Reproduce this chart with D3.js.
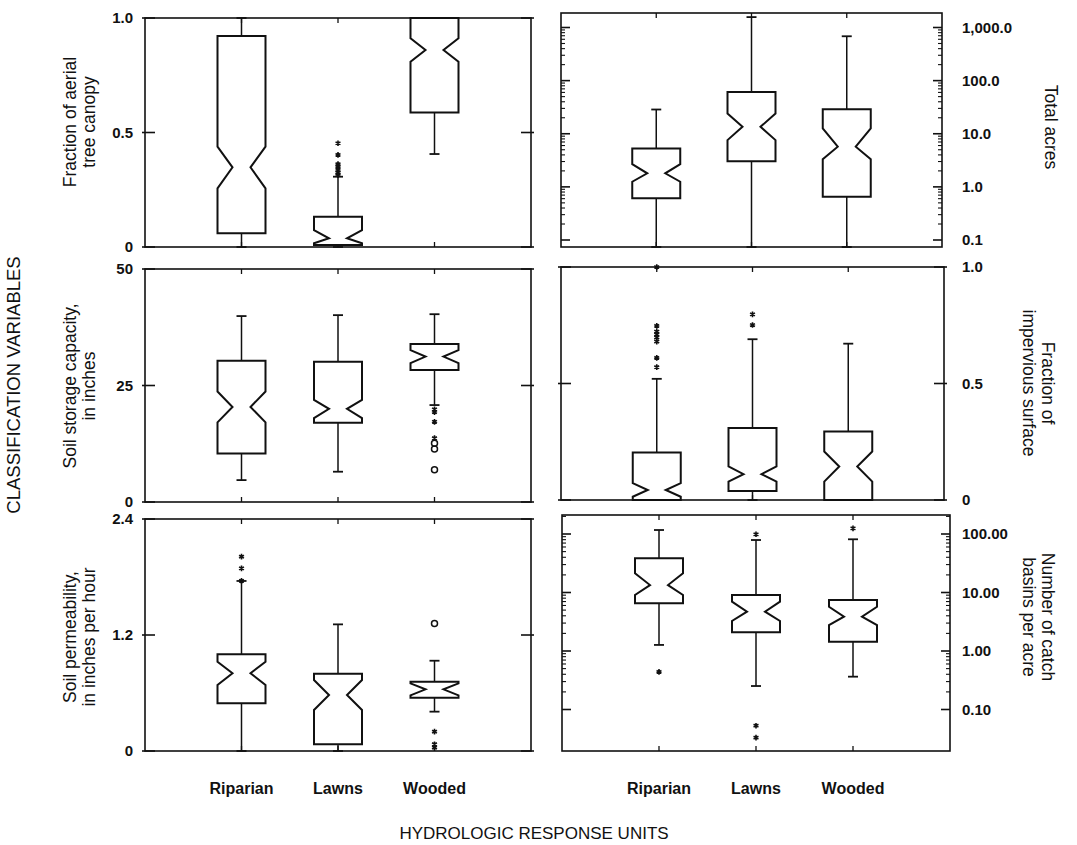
<!DOCTYPE html>
<html>
<head>
<meta charset="utf-8">
<script src="https://cdn.jsdelivr.net/npm/d3@7"></script>
<style>
  body { margin: 0; background: #fff; }
  svg { display: block; font-family: "Liberation Sans", Arial, Helvetica, sans-serif; }
</style>
</head>
<body>
<svg id="chart" width="1077" height="845"></svg>
<script>
// Hydrologic response units shown on the x axis of every panel
const categories = ["Riparian", "Lawns", "Wooded"];

// Box statistics per unit:
// [lower whisker, Q1, notch low, median, notch high, Q3, upper whisker]
const canopyStats = [
  [0.000, 0.060, 0.256, 0.348, 0.438, 0.921, 1.000],
  [0.000, 0.009, 0.016, 0.038, 0.074, 0.132, 0.307],
  [0.406, 0.587, 0.809, 0.860, 0.911, 1.000, 1.000]
];
const canopyStars = [[], [0.453, 0.402, 0.362, 0.350, 0.336, 0.324, 0.314], []];
const canopyCircles = [[], [], []];

const acresStats = [
  [0.05, 0.61, 1.25, 1.80, 2.68, 5.3, 28.6],
  [0.05, 3.05, 7.6, 13.5, 24.1, 61.4, 1570],
  [0.05, 0.65, 3.3, 5.7, 12.6, 29.0, 684]
];
const acresStars = [[], [], []];
const acresCircles = [[], [], []];

const storageStats = [
  [4.7, 10.4, 17.1, 20.4, 23.7, 30.3, 39.9],
  [6.5, 17.0, 18.0, 20.0, 21.9, 30.1, 40.1],
  [20.8, 28.3, 29.8, 31.2, 32.6, 33.9, 40.3]
];
const storageStars = [[], [], [19.9, 19.3, 17.2, 13.7]];
const storageCircles = [[], [], [12.6, 11.4, 6.9]];

const imperviousStats = [
  [0.000, 0.000, 0.014, 0.043, 0.072, 0.204, 0.520],
  [0.000, 0.039, 0.079, 0.111, 0.144, 0.309, 0.690],
  [0.000, 0.000, 0.079, 0.144, 0.208, 0.294, 0.671]
];
const imperviousStars = [[1.0, 0.747, 0.723, 0.710, 0.697, 0.680, 0.610, 0.570], [0.797, 0.751], []];
const imperviousCircles = [[], [], []];

const permeabilityStats = [
  [0.000, 0.493, 0.683, 0.804, 0.924, 1.000, 1.759],
  [0.000, 0.069, 0.424, 0.579, 0.734, 0.800, 1.310],
  [0.407, 0.551, 0.575, 0.638, 0.700, 0.717, 0.934]
];
const permeabilityStars = [[2.01, 1.89, 1.76], [], [0.20, 0.07, 0.035]];
const permeabilityCircles = [[], [], [1.32]];

const basinStats = [
  [1.27, 6.53, 9.06, 13.4, 21.3, 38.5, 117],
  [0.252, 2.09, 3.26, 4.7, 6.96, 9.06, 78.9],
  [0.364, 1.44, 2.78, 3.86, 5.7, 7.44, 81.2]
];
const basinStars = [[0.44], [98.9, 0.0528, 0.033], [125]];
const basinCircles = [[], [], []];

// Tick values and their printed labels
const canopyTicks = [0, 0.5, 1.0];
const canopyTickLabels = ["0", "0.5", "1.0"];
const acresTicks = [0.1, 1, 10, 100, 1000];
const acresTickLabels = ["0.1", "1.0", "10.0", "100.0", "1,000.0"];
const storageTicks = [0, 25, 50];
const storageTickLabels = ["0", "25", "50"];
const imperviousTicks = [0, 0.5, 1.0];
const imperviousTickLabels = ["0", "0.5", "1.0"];
const permeabilityTicks = [0, 1.2, 2.4];
const permeabilityTickLabels = ["0", "1.2", "2.4"];
const basinTicks = [0.1, 1, 10, 100];
const basinTickLabels = ["0.10", "1.00", "10.00", "100.00"];

// ---- layout ----
const svg = d3.select("#chart");
const INK = "#111";

const panels = [
  { stats: canopyStats, stars: canopyStars, circles: canopyCircles,
    ticks: canopyTicks, labels: canopyTickLabels, log: false,
    domain: [0, 1], range: [247, 18], frame: [145, 18, 531, 247], side: "left",
    title: ["Fraction of aerial", "tree canopy"], titleY: 122 },
  { stats: acresStats, stars: acresStars, circles: acresCircles,
    ticks: acresTicks, labels: acresTickLabels, log: true,
    domain: [0.1, 1000], range: [240, 27.5], frame: [561, 13, 942, 247], side: "right",
    title: ["Total acres"], titleY: 127 },
  { stats: storageStats, stars: storageStars, circles: storageCircles,
    ticks: storageTicks, labels: storageTickLabels, log: false,
    domain: [0, 50], range: [502, 269], frame: [145, 269, 531, 502], side: "left",
    title: ["Soil storage capacity,", "in inches"], titleY: 386 },
  { stats: imperviousStats, stars: imperviousStars, circles: imperviousCircles,
    ticks: imperviousTicks, labels: imperviousTickLabels, log: false,
    domain: [0, 1], range: [500, 267], frame: [561, 267, 944, 500], side: "right",
    title: ["Fraction of", "impervious surface"], titleY: 383 },
  { stats: permeabilityStats, stars: permeabilityStars, circles: permeabilityCircles,
    ticks: permeabilityTicks, labels: permeabilityTickLabels, log: false,
    domain: [0, 2.4], range: [751, 519], frame: [145, 519, 531, 751], side: "left",
    title: ["Soil permeability,", "in inches per hour"], titleY: 637 },
  { stats: basinStats, stars: basinStars, circles: basinCircles,
    ticks: basinTicks, labels: basinTickLabels, log: true,
    domain: [0.1, 100], range: [709.5, 534], frame: [562, 515, 950, 751], side: "right",
    title: ["Number of catch", "basins per acre"], titleY: 617 }
];

const BOX_W = 48, NOTCH_IN = 15, CAP_W = 10;

panels.forEach(p => {
  const [fx0, fy0, fx1, fy1] = p.frame;
  const x = d3.scalePoint().domain(categories).range([fx0, fx1]).padding(1);
  const y = (p.log ? d3.scaleLog() : d3.scaleLinear()).domain(p.domain).range(p.range);
  const yc = v => Math.max(fy0, Math.min(fy1, y(v)));
  const g = svg.append("g");

  // frame
  g.append("rect")
    .attr("x", fx0).attr("y", fy0)
    .attr("width", fx1 - fx0).attr("height", fy1 - fy0)
    .attr("fill", "none").attr("stroke", INK).attr("stroke-width", 1.6);

  // category ticks on top and bottom edges
  categories.forEach(c => {
    g.append("line").attr("x1", x(c)).attr("x2", x(c)).attr("y1", fy0).attr("y2", fy0 + 5)
      .attr("stroke", INK).attr("stroke-width", 1.3);
    g.append("line").attr("x1", x(c)).attr("x2", x(c)).attr("y1", fy1).attr("y2", fy1 - 5)
      .attr("stroke", INK).attr("stroke-width", 1.3);
  });

  // y ticks: majors on both sides, minor log ticks in between
  if (p.log) {
    const minor = y.copy().domain([p.domain[0], p.domain[1] * 10]).ticks()
      .filter(v => yc(v) > fy0 && yc(v) < fy1 && y(v) === yc(v));
    minor.forEach(v => {
      const major = Math.abs(Math.log10(v) - Math.round(Math.log10(v))) < 1e-9;
      const len = major ? 9 : 4;
      [[fx0, 1], [fx1, -1]].forEach(([ex, dir]) => {
        g.append("line").attr("x1", ex).attr("x2", ex + dir * len)
          .attr("y1", y(v)).attr("y2", y(v))
          .attr("stroke", INK).attr("stroke-width", major ? 1.6 : 1.1);
      });
    });
  } else {
    p.ticks.forEach(v => {
      [[fx0, 1], [fx1, -1]].forEach(([ex, dir]) => {
        g.append("line").attr("x1", ex - dir * 3).attr("x2", ex + dir * 10)
          .attr("y1", y(v)).attr("y2", y(v))
          .attr("stroke", INK).attr("stroke-width", 1.6);
      });
    });
  }

  // tick labels
  p.ticks.forEach((v, i) => {
    g.append("text")
      .attr("x", p.side === "left" ? 133 : 962)
      .attr("y", y(v)).attr("dy", "0.36em")
      .attr("text-anchor", p.side === "left" ? "end" : "start")
      .attr("font-size", 15).attr("font-weight", "bold").attr("fill", INK)
      .text(p.labels[i]);
  });

  // axis title
  const rot = p.side === "left" ? -90 : 90;
  const baseX = p.side === "left" ? 70 : (p.title.length > 1 ? 1048 : 1051);
  const stepX = p.side === "left" ? 19 : -19;
  p.title.forEach((t, i) => {
    const tx = baseX + i * stepX;
    g.append("text")
      .attr("transform", `translate(${tx},${p.titleY}) rotate(${rot})`)
      .attr("dy", "0.35em").attr("text-anchor", "middle")
      .attr("font-size", 17.5).attr("fill", INK)
      .text(t);
  });

  // notched boxes
  p.stats.forEach((s, i) => {
    const cx = x(categories[i]);
    const [lo, q1, nlo, med, nhi, q3, hi] = s;
    const L = cx - BOX_W / 2, R = cx + BOX_W / 2;

    // whiskers
    [[q1, lo], [q3, hi]].forEach(([from, to]) => {
      if (to === from) return;
      g.append("line").attr("x1", cx).attr("x2", cx)
        .attr("y1", yc(from)).attr("y2", yc(to))
        .attr("stroke", INK).attr("stroke-width", 1.5);
      g.append("line").attr("x1", cx - CAP_W / 2).attr("x2", cx + CAP_W / 2)
        .attr("y1", yc(to)).attr("y2", yc(to))
        .attr("stroke", INK).attr("stroke-width", 1.8);
    });

    const pts = [
      [L, yc(q3)], [R, yc(q3)], [R, yc(nhi)], [R - NOTCH_IN, yc(med)], [R, yc(nlo)],
      [R, yc(q1)], [L, yc(q1)], [L, yc(nlo)], [L + NOTCH_IN, yc(med)], [L, yc(nhi)]
    ];
    g.append("path")
      .attr("d", d3.line()(pts) + "Z")
      .attr("fill", "#fff").attr("stroke", INK).attr("stroke-width", 2)
      .attr("stroke-linejoin", "miter");

    // outliers
    p.stars[i].forEach(v => {
      g.append("path")
        .attr("transform", `translate(${cx},${yc(v)})`)
        .attr("d", d3.symbol(d3.symbolAsterisk, 22)())
        .attr("fill", "none").attr("stroke", INK).attr("stroke-width", 1.6);
    });
    p.circles[i].forEach(v => {
      g.append("circle").attr("cx", cx).attr("cy", yc(v)).attr("r", 3)
        .attr("fill", "none").attr("stroke", INK).attr("stroke-width", 1.5);
    });
  });

  // unit names under the bottom row
  if (fy1 > 700) {
    categories.forEach(c => {
      g.append("text").attr("x", x(c)).attr("y", 794)
        .attr("text-anchor", "middle").attr("font-size", 16).attr("font-weight", "bold")
        .attr("fill", INK).text(c);
    });
  }
});

// shared axis titles
svg.append("text")
  .attr("transform", "translate(14,385) rotate(-90)")
  .attr("dy", "0.35em").attr("text-anchor", "middle")
  .attr("font-size", 18.5).attr("fill", INK)
  .text("CLASSIFICATION VARIABLES");

svg.append("text")
  .attr("x", 534).attr("y", 839)
  .attr("text-anchor", "middle")
  .attr("font-size", 17).attr("fill", INK)
  .text("HYDROLOGIC RESPONSE UNITS");
</script>
</body>
</html>
